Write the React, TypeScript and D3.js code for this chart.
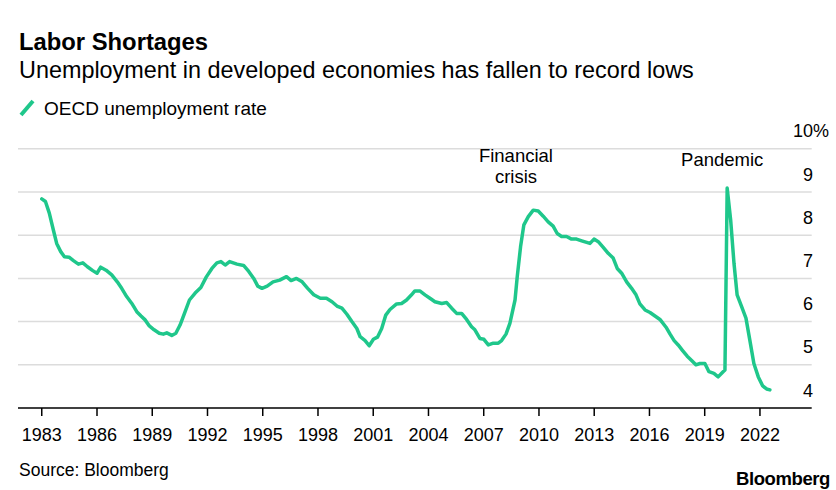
import React from "react";
import * as d3 from "d3";

const title = "Labor Shortages";
const subtitle = "Unemployment in developed economies has fallen to record lows";
const seriesName = "OECD unemployment rate";
const source = "Source: Bloomberg";

const xTicks = [1983, 1986, 1989, 1992, 1995, 1998, 2001, 2004, 2007, 2010, 2013, 2016, 2019, 2022];
const yTicks = [4, 5, 6, 7, 8, 9, 10];

const years = [
  1983.0, 1983.2, 1983.41, 1983.63, 1983.81, 1984.03, 1984.23, 1984.48, 1984.72, 1984.99,
  1985.23, 1985.48, 1985.77, 1986.0, 1986.2, 1986.49, 1986.8, 1987.1, 1987.34, 1987.61,
  1987.89, 1988.16, 1988.39, 1988.61, 1988.84, 1989.1, 1989.38, 1989.6, 1989.79, 1990.06,
  1990.28, 1990.51, 1990.75, 1991.02, 1991.33, 1991.64, 1991.93, 1992.24, 1992.51, 1992.73,
  1992.96, 1993.2, 1993.6, 1993.96, 1994.24, 1994.51, 1994.73, 1994.96, 1995.24, 1995.56,
  1995.92, 1996.29, 1996.54, 1996.83, 1997.14, 1997.44, 1997.77, 1998.13, 1998.46, 1998.76,
  1999.03, 1999.3, 1999.57, 1999.84, 2000.11, 2000.29, 2000.56, 2000.78, 2001.01, 2001.23,
  2001.46, 2001.68, 2001.91, 2002.27, 2002.54, 2002.81, 2003.08, 2003.26, 2003.53, 2003.81,
  2004.08, 2004.35, 2004.72, 2004.99, 2005.26, 2005.53, 2005.8, 2006.07, 2006.34, 2006.52,
  2006.79, 2007.01, 2007.25, 2007.52, 2007.79, 2007.97, 2008.21, 2008.42, 2008.7, 2008.82,
  2009.0, 2009.18, 2009.42, 2009.69, 2009.96, 2010.23, 2010.5, 2010.77, 2010.99, 2011.23,
  2011.5, 2011.77, 2012.04, 2012.32, 2012.77, 2012.99, 2013.22, 2013.49, 2013.76, 2014.03,
  2014.25, 2014.49, 2014.76, 2015.03, 2015.27, 2015.48, 2015.76, 2016.03, 2016.3, 2016.57,
  2016.9, 2017.12, 2017.34, 2017.56, 2017.8, 2018.05, 2018.29, 2018.52, 2018.74, 2019.01,
  2019.23, 2019.5, 2019.73, 2020.0, 2020.1, 2020.22, 2020.41, 2020.59, 2020.76, 2021.0,
  2021.24, 2021.45, 2021.67, 2021.91, 2022.15, 2022.36, 2022.54,
];

const rates = [
  8.84, 8.78, 8.51, 8.12, 7.81, 7.62, 7.5, 7.49, 7.41, 7.33,
  7.36, 7.27, 7.18, 7.12, 7.26, 7.19, 7.08, 6.92, 6.77, 6.58,
  6.42, 6.23, 6.13, 6.04, 5.9, 5.81, 5.73, 5.71, 5.74, 5.68,
  5.73, 5.92, 6.19, 6.5, 6.66, 6.79, 7.03, 7.23, 7.36, 7.39,
  7.31, 7.39, 7.33, 7.3, 7.16, 7.0, 6.82, 6.77, 6.82, 6.92,
  6.96, 7.04, 6.95, 7.0, 6.92, 6.77, 6.62, 6.54, 6.54, 6.46,
  6.36, 6.31, 6.17, 6.0, 5.84, 5.65, 5.56, 5.44, 5.59, 5.64,
  5.84, 6.15, 6.28, 6.41, 6.42, 6.5, 6.62, 6.71, 6.71, 6.62,
  6.54, 6.46, 6.42, 6.44, 6.31, 6.19, 6.19, 6.05, 5.88, 5.81,
  5.61, 5.59, 5.46, 5.5, 5.5, 5.56, 5.71, 5.96, 6.5, 7.04,
  7.73, 8.24, 8.43, 8.58, 8.56, 8.44, 8.31, 8.21, 8.04, 7.97,
  7.97, 7.91, 7.91, 7.87, 7.81, 7.91, 7.85, 7.72, 7.58, 7.47,
  7.23, 7.12, 6.92, 6.77, 6.62, 6.41, 6.27, 6.21, 6.13, 6.05,
  5.87, 5.71, 5.56, 5.46, 5.33, 5.2, 5.1, 5.0, 5.03, 5.03,
  4.84, 4.8, 4.72, 4.84, 4.88, 9.09, 8.35, 7.35, 6.62, 6.35,
  6.08, 5.57, 5.03, 4.72, 4.51, 4.44, 4.42,
];

const annotations = [
  { lines: ["Financial", "crisis"], year: 2008.75 },
  { lines: ["Pandemic"], year: 2019.95 },
];

const W = 836;
const H = 490;
const FONT = "'Liberation Sans', Arial, Helvetica, sans-serif";
const GREEN = "#1fc78b";

export default function App() {
  const x = d3.scaleLinear().domain([1981.71, 2024.81]).range([18, 811.7]);
  const y = d3.scaleLinear().domain([4, 10]).range([408, 148.8]);
  const pts = years.map((yr, i) => [yr, rates[i]] as [number, number]);
  const line = d3
    .line<[number, number]>()
    .x((d) => x(d[0]))
    .y((d) => y(d[1]))
    .curve(d3.curveLinear);

  return (
    <svg
      width={W}
      height={H}
      viewBox={`0 0 ${W} ${H}`}
      style={{ position: "absolute", left: 0, top: 0, background: "#fff" }}
      fontFamily={FONT}
    >
      <rect width={W} height={H} fill="#fff" />
      <text x={19} y={49.5} fontSize={23.8} fontWeight="bold" fill="#000">
        {title}
      </text>
      <text x={19} y={77.5} fontSize={23.4} fill="#000">
        {subtitle}
      </text>
      <line x1={21} y1={115} x2={33} y2={101} stroke={GREEN} strokeWidth={4} />
      <text x={44} y={114.5} fontSize={19} fill="#000">
        {seriesName}
      </text>

      {yTicks
        .filter((t) => t > 4)
        .map((t) => (
          <line key={t} x1={18} x2={811.7} y1={y(t)} y2={y(t)} stroke="#dcdcdc" strokeWidth={1.5} />
        ))}

      {yTicks.map((t) => (
        <g key={"yl" + t}>
          <text x={813} y={y(t) - 11.5} fontSize={18} textAnchor="end" fill="#000">
            {t}
          </text>
          {t === 10 && (
            <text x={813} y={y(t) - 11.5} fontSize={18} fill="#000">
              %
            </text>
          )}
        </g>
      ))}

      <path
        d={line(pts) || ""}
        fill="none"
        stroke={GREEN}
        strokeWidth={3.5}
        strokeLinejoin="round"
        strokeLinecap="round"
      />

      <line x1={18} x2={811.7} y1={408} y2={408} stroke="#000" strokeWidth={1.5} />
      {xTicks.map((t) => (
        <g key={"xt" + t}>
          <line x1={x(t)} x2={x(t)} y1={408} y2={416} stroke="#000" strokeWidth={1.5} />
          <text x={x(t)} y={441} fontSize={18} textAnchor="middle" fill="#000">
            {t}
          </text>
        </g>
      ))}

      {annotations.map((a) =>
        a.lines.map((l, i) => (
          <text
            key={l}
            x={x(a.year)}
            y={(a.lines.length > 1 ? 162 : 166) + i * 20.5}
            fontSize={18.5}
            textAnchor="middle"
            fill="#000"
          >
            {l}
          </text>
        ))
      )}

      <text x={19} y={476} fontSize={17.5} fill="#000">
        {source}
      </text>
      <text x={830} y={485} fontSize={18.5} fontWeight="bold" textAnchor="end" letterSpacing={-0.4} fill="#000">
        Bloomberg
      </text>
    </svg>
  );
}
